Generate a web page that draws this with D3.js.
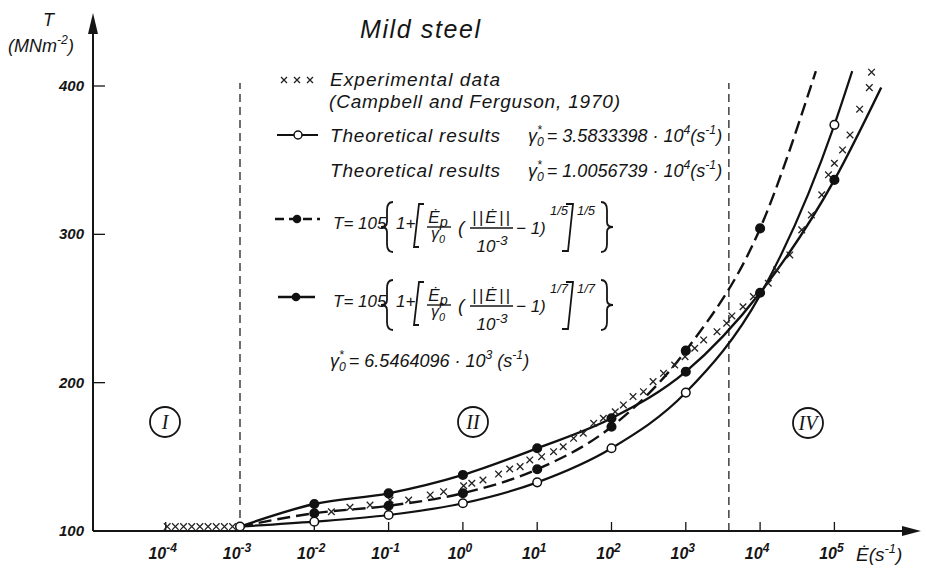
<!DOCTYPE html>
<html>
<head>
<meta charset="utf-8">
<script src="https://cdn.jsdelivr.net/npm/d3@7"></script>
<style>
  body { margin: 0; background: #fff; }
  svg text { font-family: "Liberation Sans", Arial, sans-serif; font-style: italic; fill: #151515; }
</style>
</head>
<body>
<svg id="chart" width="926" height="568"></svg>
<script>
// values: strain rate as log10 (s^-1), stress T in MN m^-2
var rateTicks = [-4, -3, -2, -1, 0, 1, 2, 3, 4, 5];
var stressTicks = [100, 200, 300, 400];

// theoretical results, gamma0* = 3.5833398e4 (open circles)
var openLogRate = [-3, -2, -1, 0, 1, 2, 3, 4, 5, 5.24];
var openStress  = [103, 106.3, 110.8, 118.7, 132.8, 155.8, 193.3, 259, 373.8, 410];
var openMarked  = [1, 1, 1, 1, 1, 1, 1, 0, 1, 0];

// T = 105{1+[...]^1/5} (dashed, filled dots)
var dashLogRate = [-3, -2, -1, 0, 1, 2, 3, 4, 4.75];
var dashStress  = [103, 112, 117, 125.5, 141.6, 170.3, 221.6, 304, 410];
var dashMarked  = [0, 1, 1, 1, 1, 1, 1, 1, 0];

// T = 105{1+[...]^1/7} (solid, filled dots)
var solidLogRate = [-3, -2, -1, 0, 1, 2, 3, 4, 5, 5.63];
var solidStress  = [103, 118.2, 125.4, 137.8, 155.8, 176, 207.4, 260.6, 336.7, 399];
var solidMarked  = [0, 1, 1, 1, 1, 1, 1, 1, 1, 0];

// experimental data (Campbell and Ferguson, 1970)
var expLogRate = [-3.98, -3.87, -3.76, -3.65, -3.54, -3.43, -3.32, -3.21, -3.10,
  -1.77, -1.52, -1.25, -0.98, -0.73, -0.44, -0.26, 0.01, 0.12, 0.27, 0.48, 0.63, 0.77, 0.90,
  1.06, 1.22, 1.35, 1.49, 1.62, 1.76, 1.89, 2.05, 2.16, 2.29, 2.43, 2.56, 2.70, 2.85, 2.99,
  3.12, 3.24, 3.42, 3.55, 3.62, 3.77, 3.91, 4.11, 4.22, 4.40, 4.56, 4.69, 4.83, 4.92, 5.00,
  5.11, 5.21, 5.34, 5.47, 5.50];
var expStress = [103, 103, 103, 103, 103, 103, 103, 103, 103,
  113, 116, 117.5, 120.9, 120.9, 124.3, 126.5, 130.5, 132.2, 134.4, 138.4, 141.8, 143.4, 147.9,
  150.1, 153.5, 156.8, 162.5, 165.9, 172.6, 176, 180.4, 185, 190.6, 193.9, 200.7, 206.3, 211.9, 217.5,
  223.2, 228.8, 234.4, 240.1, 245, 251.2, 258, 267, 276, 286.1, 303, 313.1, 326.6, 340.1, 347.9,
  356.9, 367, 384.4, 398.9, 409.3];

var regionBounds = [1e-3, 3.8e3];
var regionNames = ["I", "II", "IV"];

var svg = d3.select("#chart");
var x = d3.scaleLog().domain([1e-3, 1e5]).range([240, 834.4]);
var y = d3.scaleLinear().domain([100, 400]).range([531, 86]);
var x0 = 93;

function rich(g, px, py, size, parts, anchor, supScale) {
  var t = g.append("text").attr("x", px).attr("y", py).attr("font-size", size);
  if (anchor) t.attr("text-anchor", anchor);
  var shift = 0, sc = supScale || 0.68;
  parts.forEach(function (p) {
    var s = typeof p === "string" ? {t: p} : p;
    var target = s.up ? -size * 0.42 : s.down ? size * 0.22 : 0;
    var ts = t.append("tspan").text(s.t).attr("dy", target - shift);
    if (s.dx) ts.attr("dx", s.dx);
    if (s.up || s.down) ts.attr("font-size", size * sc);
    shift = target;
  });
  return t;
}
function gamma(size, star) {
  var g = ["γ", {t: "0", down: 1}];
  if (star) g.push({t: "*", up: 1, dx: -size * 0.68 * 0.55});
  return g;
}

// region boundaries
svg.append("g").selectAll("line").data(regionBounds).enter().append("line")
  .attr("x1", function (d) { return x(d); }).attr("x2", function (d) { return x(d); })
  .attr("y1", y(100)).attr("y2", y(402))
  .attr("stroke", "#222").attr("stroke-width", 1.3).attr("stroke-dasharray", "8,5");

// axes
var ax = svg.append("g").attr("stroke", "#151515");
ax.append("line").attr("x1", x0).attr("x2", 905).attr("y1", y(100)).attr("y2", y(100)).attr("stroke-width", 2);
ax.append("line").attr("x1", x0).attr("x2", x0).attr("y1", y(100)).attr("y2", 30).attr("stroke-width", 2);
svg.append("path").attr("d", "M921," + y(100) + "L902," + (y(100) - 5) + "L902," + (y(100) + 5) + "Z").attr("fill", "#151515");
svg.append("path").attr("d", "M" + x0 + ",13L" + (x0 - 5) + ",34L" + (x0 + 5) + ",34Z").attr("fill", "#151515");

ax.selectAll(".xt").data(rateTicks).enter().append("line")
  .attr("x1", function (d) { return x(Math.pow(10, d)); })
  .attr("x2", function (d) { return x(Math.pow(10, d)); })
  .attr("y1", y(100)).attr("y2", y(100) - 9).attr("stroke-width", 1.3);
ax.selectAll(".yt").data(stressTicks.slice(1)).enter().append("line")
  .attr("x1", x0).attr("x2", x0 + 12)
  .attr("y1", function (d) { return y(d); }).attr("y2", function (d) { return y(d); })
  .attr("stroke-width", 1.3);

var labels = svg.append("g").attr("font-weight", "bold");
rateTicks.forEach(function (k) {
  rich(labels, x(Math.pow(10, k)) - 3, 559, 16, ["10", {t: String(k), up: 1}], "middle", 0.75);
});
stressTicks.forEach(function (v) {
  labels.append("text").attr("x", 84).attr("y", y(v) + 5).attr("font-size", 15)
    .attr("text-anchor", "end").text(v);
});

rich(svg, 856, 561, 19, ["Ė(s", {t: "-1", up: 1}, ")"]);
svg.append("text").attr("x", 43).attr("y", 26).attr("font-size", 18).text("T");
rich(svg, 8, 52, 18, ["(MNm", {t: "-2", up: 1}, ")"]);

// curves
function pts(lr, st) { return lr.map(function (d, i) { return [d, st[i]]; }); }
var line = d3.line()
  .x(function (d) { return x(Math.pow(10, d[0])); })
  .y(function (d) { return y(d[1]); })
  .curve(d3.curveMonotoneX);

var curves = svg.append("g").attr("fill", "none").attr("stroke", "#111");
curves.append("path").attr("d", line(pts(openLogRate, openStress))).attr("stroke-width", 2.2);
curves.append("path").attr("d", line(pts(solidLogRate, solidStress))).attr("stroke-width", 2.4);
curves.append("path").attr("d", line(pts(dashLogRate, dashStress))).attr("stroke-width", 2.4)
  .attr("stroke-dasharray", "13,6");

// experimental crosses
function cross(s) { return "M" + -s + "," + -s + "L" + s + "," + s + "M" + s + "," + -s + "L" + -s + "," + s; }
svg.append("g").selectAll("path").data(pts(expLogRate, expStress)).enter().append("path")
  .attr("d", cross(3.3))
  .attr("transform", function (d) { return "translate(" + x(Math.pow(10, d[0])) + "," + y(d[1]) + ")"; })
  .attr("stroke", "#222").attr("stroke-width", 1.3).attr("fill", "none");

// markers
function dots(lr, st, mk, r, fill) {
  svg.append("g").selectAll("circle")
    .data(pts(lr, st).filter(function (d, i) { return mk[i]; }))
    .enter().append("circle")
    .attr("cx", function (d) { return x(Math.pow(10, d[0])); })
    .attr("cy", function (d) { return y(d[1]); })
    .attr("r", r).attr("fill", fill).attr("stroke", "#111").attr("stroke-width", 1.5);
}
dots(dashLogRate, dashStress, dashMarked, 4.3, "#111");
dots(solidLogRate, solidStress, solidMarked, 4.3, "#111");
dots(openLogRate, openStress, openMarked, 4.3, "#fff");

// region labels
var regionPos = [[165, 422], [473, 422], [808, 423]];
var reg = svg.append("g");
regionNames.forEach(function (n, i) {
  reg.append("circle").attr("cx", regionPos[i][0]).attr("cy", regionPos[i][1]).attr("r", 15)
    .attr("fill", "none").attr("stroke", "#151515").attr("stroke-width", 1.8);
  reg.append("text").attr("x", regionPos[i][0]).attr("y", regionPos[i][1] + 7)
    .attr("text-anchor", "middle").attr("font-size", 20)
    .style("font-family", "'Liberation Serif', serif").text(n);
});

// title and legend
svg.append("text").attr("x", 360).attr("y", 38).attr("font-size", 25)
  .attr("textLength", 120).attr("lengthAdjust", "spacing").text("Mild steel");

var leg = svg.append("g");
[284, 297, 310].forEach(function (cx) {
  leg.append("path").attr("d", cross(3)).attr("transform", "translate(" + cx + ",80)")
    .attr("stroke", "#222").attr("stroke-width", 1.3);
});
leg.append("text").attr("x", 330).attr("y", 86).attr("font-size", 19)
  .attr("textLength", 170).attr("lengthAdjust", "spacing").text("Experimental data");
leg.append("text").attr("x", 329).attr("y", 108).attr("font-size", 19)
  .attr("textLength", 291).attr("lengthAdjust", "spacing").text("(Campbell and Ferguson, 1970)");
leg.append("line").attr("x1", 277).attr("x2", 318).attr("y1", 135).attr("y2", 135)
  .attr("stroke", "#111").attr("stroke-width", 2.2);
leg.append("circle").attr("cx", 298).attr("cy", 135).attr("r", 4).attr("fill", "#fff")
  .attr("stroke", "#111").attr("stroke-width", 1.5);
leg.append("text").attr("x", 330).attr("y", 142).attr("font-size", 19)
  .attr("textLength", 170).attr("lengthAdjust", "spacing").text("Theoretical results");
leg.append("text").attr("x", 330).attr("y", 177).attr("font-size", 19)
  .attr("textLength", 170).attr("lengthAdjust", "spacing").text("Theoretical results");
rich(leg, 528, 142, 18, gamma(18, true).concat([" = 3.5833398 · 10", {t: "4", up: 1}, "(s", {t: "-1", up: 1}, ")"]));
rich(leg, 528, 177, 18, gamma(18, true).concat([" = 1.0056739 · 10", {t: "4", up: 1}, "(s", {t: "-1", up: 1}, ")"]));

leg.append("line").attr("x1", 275).attr("x2", 320).attr("y1", 219).attr("y2", 219)
  .attr("stroke", "#111").attr("stroke-width", 2.4).attr("stroke-dasharray", "9,5");
leg.append("circle").attr("cx", 297).attr("cy", 219).attr("r", 4.3).attr("fill", "#111");
leg.append("line").attr("x1", 278).attr("x2", 315).attr("y1", 297).attr("y2", 297)
  .attr("stroke", "#111").attr("stroke-width", 2.4);
leg.append("circle").attr("cx", 296).attr("cy", 297).attr("r", 4.3).attr("fill", "#111");

function brace(xl, top, bot, dir) {
  var m = (top + bot) / 2, xi = xl + dir * 6, xo = xl + dir * 12;
  return "M" + xo + "," + top + "Q" + xi + "," + top + " " + xi + "," + (top + 8) +
    "L" + xi + "," + (m - 5) + "Q" + xi + "," + m + " " + xl + "," + m +
    "Q" + xi + "," + m + " " + xi + "," + (m + 5) +
    "L" + xi + "," + (bot - 8) + "Q" + xi + "," + bot + " " + xo + "," + bot;
}

function formula(y0, star, expo) {
  var f = leg.append("g");
  function path(d) {
    f.append("path").attr("d", d).attr("stroke", "#151515").attr("stroke-width", 1.8).attr("fill", "none");
  }
  rich(f, 333, y0, 17, ["T= 105"]);
  path(brace(381, y0 - 27, y0 + 23, 1));
  rich(f, 396, y0, 17, ["1+"]);
  path("M424," + (y0 - 25) + "H419L414," + (y0 + 18) + "H419");
  rich(f, 438, y0 - 6, 17, ["Ė", {t: "p", down: 1}], "middle", 0.85);
  f.append("line").attr("x1", 427).attr("x2", 451).attr("y1", y0 - 2).attr("y2", y0 - 2)
    .attr("stroke", "#151515").attr("stroke-width", 1.4);
  rich(f, 438, y0 + 10, 16, gamma(16, star), "middle");
  f.append("text").attr("x", 458).attr("y", y0 + 5).attr("font-size", 19).text("(");
  f.append("text").attr("x", 491).attr("y", y0 - 6).attr("font-size", 17)
    .attr("text-anchor", "middle").attr("textLength", 38).attr("lengthAdjust", "spacing").text("||Ė||");
  f.append("line").attr("x1", 470).attr("x2", 513).attr("y1", y0 - 1).attr("y2", y0 - 1)
    .attr("stroke", "#151515").attr("stroke-width", 1.4);
  rich(f, 492, y0 + 23, 17, ["10", {t: "-3", up: 1}], "middle", 0.8);
  rich(f, 516, y0 + 5, 17, ["− 1)"]);
  rich(f, 550, y0 - 14, 13, [expo]);
  path("M566," + (y0 - 25) + "H573L568," + (y0 + 22) + "H562");
  rich(f, 577, y0 - 14, 13, [expo]);
  path(brace(613, y0 - 27, y0 + 23, -1));
}
formula(229, false, "1/5");
formula(307, true, "1/7");
rich(leg, 330, 367, 18, gamma(18, true).concat([" = 6.5464096 · 10", {t: "3", up: 1}, " (s", {t: "-1", up: 1}, ")"]));
</script>
</body>
</html>
